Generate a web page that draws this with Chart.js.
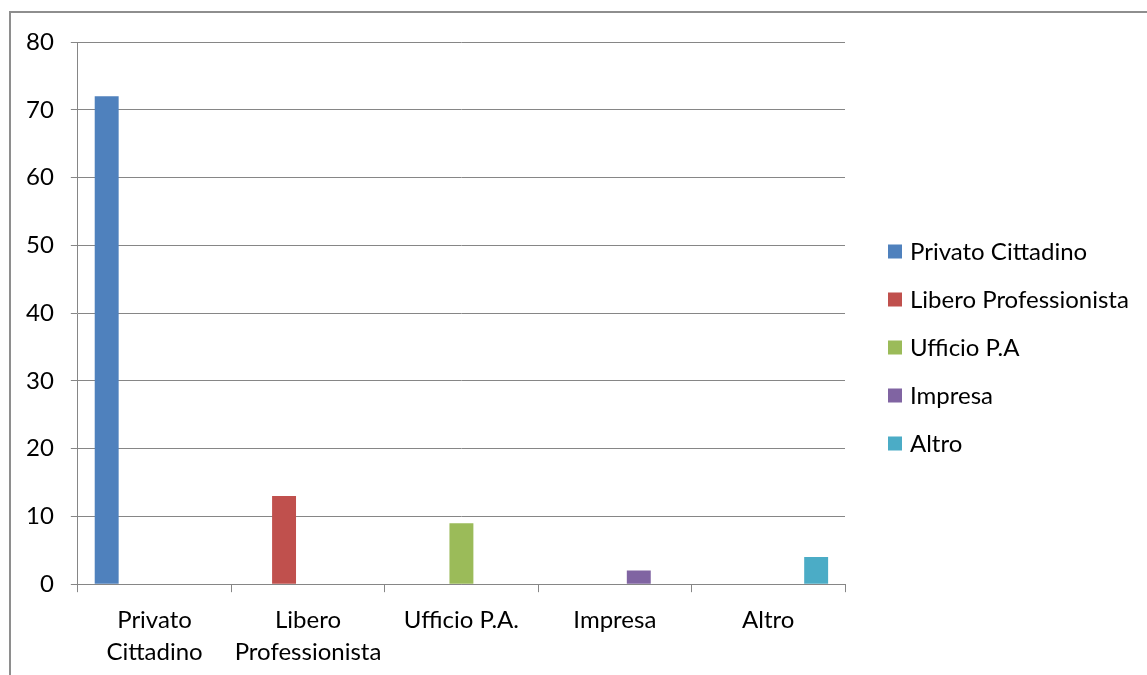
<!DOCTYPE html>
<html>
<head>
<meta charset="utf-8">
<title>Utenti</title>
<script src="https://cdn.jsdelivr.net/npm/chart.js@4/dist/chart.umd.min.js"></script>
<style>
  html, body { margin: 0; padding: 0; background: #fff; overflow: hidden; }
  #frame {
    position: absolute; left: 9px; top: 11px;
    width: 1200px; height: 700px;
    border-left: 2px solid #8e8e8e; border-top: 2px solid #8e8e8e;
  }
  #chart { position: absolute; left: 0; top: 0; }
</style>
</head>
<body>
<div id="frame">
  <canvas id="chart" width="1136" height="675"></canvas>
</div>
<script>
// categories on the x axis
var categories = [['Privato', 'Cittadino'], ['Libero', 'Professionista'], 'Ufficio P.A.', 'Impresa', 'Altro'];

// one series per category, as in the sheet
var seriesNames = ['Privato Cittadino', 'Libero Professionista', 'Ufficio P.A', 'Impresa', 'Altro'];
var privato    = [72, 0, 0, 0, 0];
var libero     = [0, 13, 0, 0, 0];
var ufficio    = [0, 0, 9, 0, 0];
var impresa    = [0, 0, 0, 2, 0];
var altro      = [0, 0, 0, 0, 4];
var colors     = ['#4F81BD', '#C0504D', '#9BBB59', '#8064A2', '#4BACC6'];

// value axis
var yMin = 0;
var yMax = 80;
var yStep = 10;

var GRID = '#868686';
var FONT = { family: 'Lato', size: 24 };

Chart.defaults.font.family = 'Lato';
Chart.defaults.color = '#000';

// legend drawn at the right, Excel style
var sideLegend = {
	id: 'sideLegend',
	afterDraw: function(chart){
		var ctx = chart.ctx;
		var x = chart.chartArea.right + 43;
		var y0 = chart.height / 2 - 2 * 48 - 3;
		ctx.save();
		ctx.font = FONT.size + 'px ' + FONT.family;
		ctx.textBaseline = 'middle';
		ctx.textAlign = 'left';
		chart.data.datasets.forEach(function(ds, i){
			var y = y0 + i * 48;
			ctx.fillStyle = ds.backgroundColor;
			ctx.fillRect(x, y - 7, 14, 14);
			ctx.fillStyle = '#000';
			ctx.fillText(ds.label, x + 22, y + 1);
		});
		ctx.restore();
	}
};

var seriesData = [privato, libero, ufficio, impresa, altro];
var datasets = seriesData.map(function(values, i){
	return {
		label: seriesNames[i],
		data: values,
		backgroundColor: colors[i],
		borderWidth: 0,
		categoryPercentage: 0.78,
		barPercentage: 1.0
	};
});

var ctx = document.getElementById('chart').getContext('2d');
var chart = new Chart(ctx, {
	type: 'bar',
	data: { labels: categories, datasets: datasets },
	options: {
		responsive: false,
		animation: false,
		// y axis reserves its tick padding on both sides, pull it back a bit
		layout: { padding: { top: 29, right: 302, bottom: 8, left: -2 } },
		plugins: {
			legend: { display: false },
			tooltip: { enabled: false }
		},
		scales: {
			x: {
				grid: {
					offset: true,
					drawOnChartArea: false,
					drawTicks: true,
					tickLength: 8,
					color: GRID
				},
				border: { color: GRID, width: 1 },
				ticks: {
					font: { family: FONT.family, size: FONT.size, lineHeight: 1.33 },
					padding: 12,
					maxRotation: 0,
					autoSkip: false
				},
				// wrapped labels sit inside their category, no side overflow needed
				afterFit: function(scale){
					scale.paddingLeft = 0;
					scale.paddingRight = 0;
				}
			},
			y: {
				min: yMin,
				max: yMax,
				grid: { color: GRID, tickLength: 7 },
				border: { color: GRID, width: 1 },
				ticks: {
					stepSize: yStep,
					font: { family: FONT.family, size: FONT.size, lineHeight: 0.95 },
					padding: 17
				}
			}
		}
	},
	plugins: [sideLegend]
});
</script>
</body>
</html>
